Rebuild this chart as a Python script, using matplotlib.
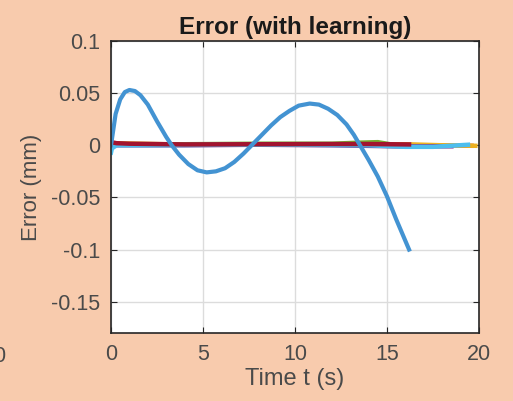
import matplotlib
matplotlib.use("Agg")
import matplotlib.pyplot as plt

plt.rcParams["font.family"] = ["Liberation Sans", "DejaVu Sans"]

# main error trace (blue)
t_blue = [0, 0.1, 0.25, 0.5, 0.75, 1.0, 1.3, 1.6, 2.0, 2.5, 3.0, 3.3, 3.7,
          4.2, 4.7, 5.2, 5.7, 6.2, 6.7, 7.2, 7.7, 8.2, 8.7, 9.2, 9.7, 10.2,
          10.8, 11.3, 11.8, 12.3, 12.8, 13.2, 13.6, 14.0, 14.5, 15.0, 15.5, 16.2]
e_blue = [0, 0.012, 0.030, 0.044, 0.051, 0.053, 0.052, 0.048, 0.039, 0.023,
          0.008, 0.0, -0.009, -0.018, -0.024, -0.026, -0.025, -0.022, -0.016,
          -0.008, 0.001, 0.010, 0.019, 0.027, 0.033, 0.038, 0.040, 0.039,
          0.035, 0.029, 0.020, 0.010, -0.002, -0.014, -0.030, -0.049, -0.071,
          -0.100]

# near-zero traces of the other runs
t_orange = [0, 2, 6, 10, 14, 17, 19.6]
e_orange = [0.001, 0.0005, 0.0005, 0.001, 0.0005, 0.0, -0.0005]
t_yellow = [0, 3, 8, 12, 16, 18, 19.8]
e_yellow = [0.002, 0.001, 0.001, 0.001, 0.001, 0.0, -0.0005]
t_purple = [0, 4, 8, 12, 15.5, 17, 18.5]
e_purple = [0.0, 0.0, 0.0005, 0.0, -0.001, -0.001, -0.001]
t_green = [0, 4, 8, 12, 13.5, 14.5, 15.5]
e_green = [0.001, 0.001, 0.0015, 0.0015, 0.0025, 0.003, 0.0]
t_cyan = [0, 0.05, 0.3, 2, 6, 10, 14, 16, 17.5, 19.4]
e_cyan = [-0.007, -0.003, 0.0, 0.0, 0.0005, 0.0005, 0.0, -0.0015, -0.0015, 0.0005]
t_red = [0, 0.3, 1, 4, 8, 12, 14, 16.2]
e_red = [0.003, 0.002, 0.0015, 0.0008, 0.001, 0.0012, 0.0012, 0.0008]

bg = "#F8CBAD"
fig = plt.figure(figsize=(5.13, 4.01), dpi=100, facecolor=bg)
ax = fig.add_axes([0.2164, 0.1696, 0.7173, 0.7282])

lw = 3.2
ax.plot(t_orange, e_orange, color="#D95319", lw=lw)
ax.plot(t_yellow, e_yellow, color="#EDB120", lw=lw)
ax.plot(t_purple, e_purple, color="#7E2F8E", lw=lw)
ax.plot(t_green, e_green, color="#77AC30", lw=lw)
ax.plot(t_cyan, e_cyan, color="#4DBEEE", lw=lw)
ax.plot(t_red, e_red, color="#A2142F", lw=lw)
ax.plot(t_blue, e_blue, color="#4393D2", lw=3.0)

ax.set_xlim(0, 20)
ax.set_ylim(-0.18, 0.1)
ax.set_xticks([0, 5, 10, 15, 20])
ax.set_xticklabels(["0", "5", "10", "15", "20"])
ax.set_yticks([-0.15, -0.1, -0.05, 0, 0.05, 0.1])
ax.set_yticklabels(["-0.15", "-0.1", "-0.05", "0", "0.05", "0.1"])
ax.grid(True, color="#DCDCDC", lw=1.0)
ax.set_axisbelow(True)
ax.tick_params(direction="in", length=4, width=0.8, top=True, right=True,
               labelsize=15.5, labelcolor="#4a4a4a", color="#262626", pad=8)
for s in ax.spines.values():
    s.set_linewidth(1.2)
    s.set_color("#262626")

ax.set_title("Error (with learning)", fontsize=17.5, fontweight="bold",
             color="#1a1a1a", pad=5)
ax.set_xlabel("Time t (s)", fontsize=17, color="#4a4a4a", labelpad=2)
ax.set_ylabel("Error (mm)", fontsize=16, color="#4a4a4a", labelpad=6)

# partial tick label from the neighbouring panel
fig.text(-0.002, 0.11, "0", fontsize=15.5, color="#4a4a4a", ha="center", va="center")

fig.savefig("out.png", dpi=100, facecolor=bg)
